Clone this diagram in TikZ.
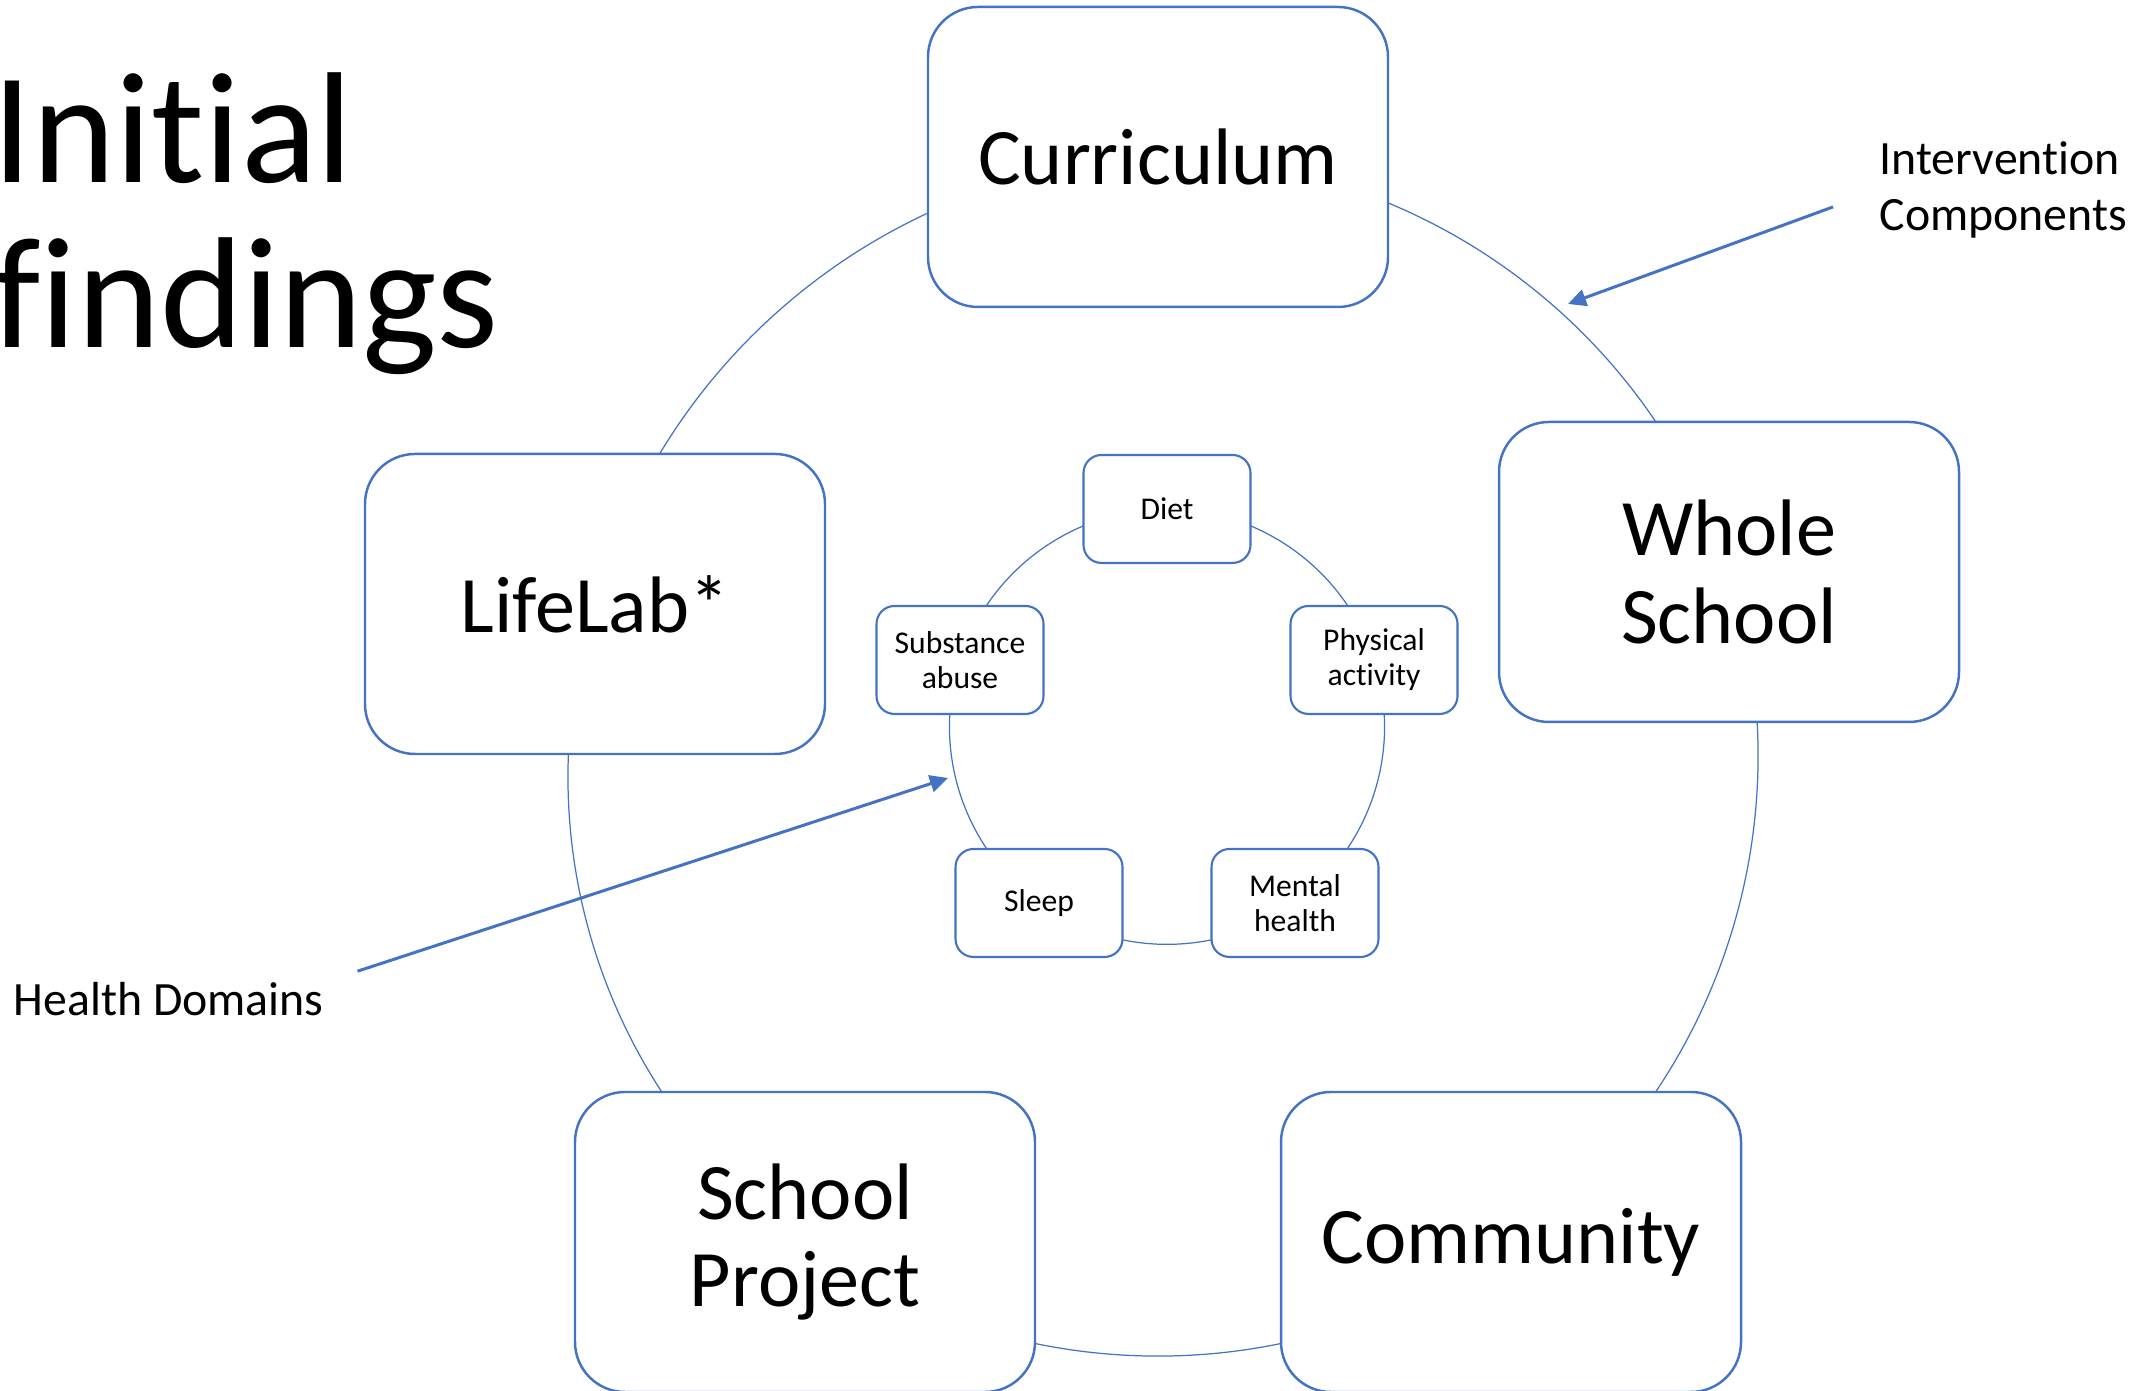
\documentclass[tikz,border=0pt]{standalone}
\usepackage{fontspec}
\setmainfont{Carlito}[Ligatures=NoCommon]
\usetikzlibrary{positioning, arrows.meta, backgrounds}

\definecolor{ringblue}{HTML}{4472C4}

\begin{document}
\begin{tikzpicture}
    [x=0.1mm, y=0.1mm,
    bigbox/.style={rectangle, rounded corners=5mm, draw=ringblue, line width=0.7pt, fill=white,
        minimum width=46mm, minimum height=30mm, align=center, font=\fontsize{22.8}{25}\selectfont},
    smallbox/.style={rectangle, rounded corners=1.8mm, draw=ringblue, line width=0.6pt, fill=white,
        minimum width=16.7mm, minimum height=10.8mm, align=center, font=\fontsize{9}{10}\selectfont},
    ring/.style={draw=ringblue, line width=0.35pt, looseness=0.94},
    pointer/.style={draw=ringblue, line width=0.85pt, -{Triangle[length=1.8mm, width=1.7mm]}},
    sidetext/.style={inner sep=0pt, align=left, font=\fontsize{13.6}{16}\selectfont},]

    \useasboundingbox (0,0) rectangle (2149,1391);

    %Nodes
    \node[bigbox](cur) at (1158,1234){Curriculum};
    \node[bigbox](who) at (1729,819){Whole\\School};
    \node[bigbox](lif) at (595,787){LifeLab*};
    \node[bigbox](sch) at (805,149){School\\Project};
    \node[bigbox](com) at (1511,149){Community};

    \node[smallbox](diet) at (1167,882){Diet};
    \node[smallbox](phy) at (1374,731){Physical\\activity};
    \node[smallbox](sub) at (960,731){Substance\\abuse};
    \node[smallbox](sle) at (1039,488){Sleep};
    \node[smallbox](men) at (1295,488){Mental\\health};

    \node[font=\fontsize{45}{47}\selectfont, align=left, anchor=north west, inner sep=0pt](title) at (-8,1319){Initial\\findings};
    \node[sidetext, anchor=north west](ic) at (1879,1250){Intervention\\Components};
    \node[sidetext, anchor=base west](hd) at (13,375){Health Domains};

    \coordinate(compTip) at (1568,1087);
    \coordinate(domTip) at (948,613);

    %Lines
    \begin{scope}[on background layer]
        \draw[ring](cur.center) to[bend left=36] (who.center);
        \draw[ring](who.center) to[bend left=36] (com.center);
        \draw[ring](com.center) to[bend left=36] (sch.center);
        \draw[ring](sch.center) to[bend left=36] (lif.center);
        \draw[ring](lif.center) to[bend left=36] (cur.center);

        \draw[ring](diet.center) to[bend left=36] (phy.center);
        \draw[ring](phy.center) to[bend left=36] (men.center);
        \draw[ring](men.center) to[bend left=36] (sle.center);
        \draw[ring](sle.center) to[bend left=36] (sub.center);
        \draw[ring](sub.center) to[bend left=36] (diet.center);
    \end{scope}

    \draw[pointer, shorten <=4.9mm](ic.west)--(compTip);
    \draw[pointer, shorten <=3.5mm](hd.north east)--(domTip);
\end{tikzpicture}
\end{document}
